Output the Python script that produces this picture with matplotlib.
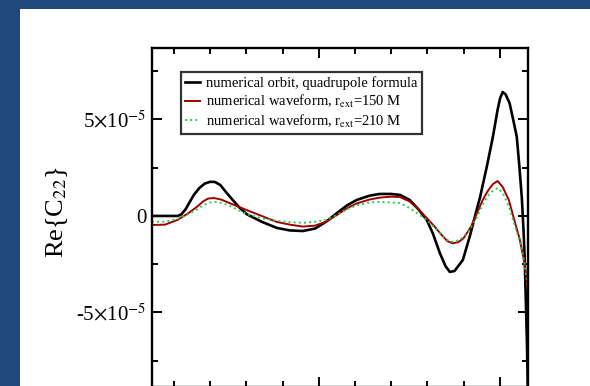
import matplotlib
matplotlib.use("Agg")
import matplotlib.pyplot as plt
from matplotlib.patches import Rectangle
from matplotlib.ticker import MultipleLocator, FixedLocator

plt.rcParams['font.family'] = ['Liberation Serif', 'DejaVu Serif']
plt.rcParams['mathtext.fontset'] = 'stix'

# time (M) and Re{C22} in units of 1e-5
t_orbit = [39, 110, 120, 132, 144, 155, 170, 185, 200, 213, 228, 245, 262, 280, 300, 342, 384,
           420, 456, 490, 520, 550, 578, 605, 640, 668, 700, 724, 751, 775, 798, 815, 834,
           850, 862, 875, 898, 918, 936, 945, 964, 981, 994, 1001, 1008, 1016, 1027, 1037,
           1047, 1054, 1061, 1066, 1069, 1072, 1075, 1078]
c_orbit = [0.0, 0.0, 0.08, 0.35, 0.75, 1.1, 1.45, 1.68, 1.77, 1.76, 1.6, 1.2, 0.83, 0.45, 0.1,
           -0.3, -0.62, -0.75, -0.78, -0.65, -0.3, 0.15, 0.55, 0.83, 1.05, 1.14, 1.14, 1.09,
           0.83, 0.35, -0.2, -0.9, -1.9, -2.6, -2.9, -2.85, -2.28, -1.0, 0.31, 0.93, 2.54,
           4.1, 5.5, 6.1, 6.42, 6.3, 5.85, 5.0, 4.1, 2.6, 0.93, -0.9, -2.28, -4.4, -6.5, -9.5]

t_r150 = [39, 75, 110, 140, 165, 180, 194, 210, 230, 262, 300, 342, 384, 420, 456, 490, 520,
          550, 578, 605, 640, 668, 700, 724, 751, 775, 798, 820, 840, 855, 870, 886, 900,
          920, 936, 953, 967, 981, 994, 1008, 1025, 1040, 1055, 1068, 1077]
c_r150 = [-0.47, -0.45, -0.2, 0.15, 0.5, 0.75, 0.9, 0.93, 0.85, 0.6, 0.31, 0.0, -0.31, -0.45,
          -0.55, -0.5, -0.3, 0.05, 0.4, 0.65, 0.85, 0.95, 1.0, 0.98, 0.75, 0.35, -0.1, -0.55,
          -1.0, -1.3, -1.42, -1.35, -1.15, -0.57, 0.1, 0.83, 1.3, 1.65, 1.81, 1.5, 0.83, -0.2,
          -1.2, -2.4, -3.7]

t_r210 = [39, 75, 110, 140, 165, 180, 200, 219, 240, 262, 300, 342, 384, 420, 456, 490, 520,
          550, 578, 605, 640, 668, 700, 724, 751, 775, 798, 820, 840, 862, 880, 900, 920,
          936, 953, 967, 981, 994, 1008, 1025, 1040, 1055, 1068, 1077]
c_r210 = [-0.3, -0.3, -0.15, 0.1, 0.35, 0.55, 0.7, 0.73, 0.62, 0.45, 0.1, -0.12, -0.25, -0.32,
          -0.36, -0.3, -0.2, 0.05, 0.35, 0.55, 0.7, 0.73, 0.7, 0.67, 0.41, 0.1, -0.2, -0.6,
          -1.0, -1.35, -1.3, -1.1, -0.6, -0.1, 0.6, 1.05, 1.3, 1.45, 1.2, 0.5, -0.4, -1.3,
          -2.4, -3.6]

labels = ['numerical orbit, quadrupole formula',
          r'numerical waveform, r$_{\mathrm{ext}}$=150 M',
          r'numerical waveform, r$_{\mathrm{ext}}$=210 M']

fig = plt.figure(figsize=(5.9, 3.86), dpi=100)
fig.patch.set_facecolor('#1f497d')
fig.patches.append(Rectangle((20 / 590, 0), 1, 1 - 9 / 386, transform=fig.transFigure,
                             facecolor='white', edgecolor='none', zorder=-10))

ax = fig.add_axes([152 / 590, -1 / 386, 376 / 590, 339 / 386])
ax.set_zorder(5)

ax.plot(t_orbit, [v * 1e-5 for v in c_orbit], color='black', lw=1.9, label=labels[0])
ax.plot(t_r150, [v * 1e-5 for v in c_r150], color='#a00000', lw=1.4, label=labels[1])
ax.plot(t_r210, [v * 1e-5 for v in c_r210], color='#22cc55', lw=1.4, ls=':', label=labels[2])

ax.set_xlim(39, 1078)
ax.set_ylim(-8.86e-5, 8.7e-5)
ax.xaxis.set_major_locator(FixedLocator([500, 1000]))
ax.xaxis.set_minor_locator(MultipleLocator(100))
ax.yaxis.set_major_locator(FixedLocator([-5e-5, 0, 5e-5]))
ax.yaxis.set_minor_locator(MultipleLocator(2.5e-5))
ax.set_yticklabels([r'-5$\times$10$^{-5}$', '0', r'5$\times$10$^{-5}$'])
ax.tick_params(which='both', direction='in', top=True, right=True, width=1.4,
               labelbottom=False, labelsize=15, pad=4)
ax.tick_params(which='major', length=7)
ax.tick_params(which='minor', length=4)
for s in ax.spines.values():
    s.set_linewidth(1.7)

fig.text(57 / 590, 1 - 212 / 386, r'Re{C$_{22}$}', rotation=90, ha='center', va='center',
         fontsize=19, zorder=6)

leg = ax.legend(loc='upper left', bbox_to_anchor=((181 - 152) / 376, 1 - (72 - 48) / 339),
                fontsize=10.5, frameon=True, fancybox=False, handlelength=1.0,
                handletextpad=0.4, labelspacing=0.18, borderpad=0.3, borderaxespad=0)
leg.get_frame().set_edgecolor('black')
leg.get_frame().set_linewidth(1.6)

fig.savefig('out.png', dpi=100, facecolor=fig.get_facecolor())
